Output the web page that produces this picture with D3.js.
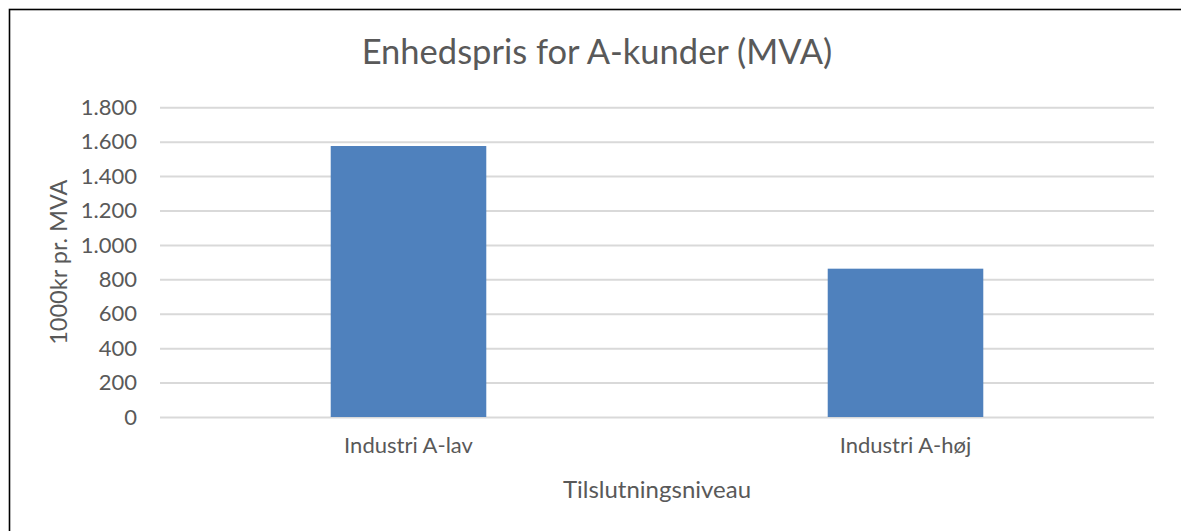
<!DOCTYPE html>
<html>
<head>
<meta charset="utf-8">
<script src="https://cdn.jsdelivr.net/npm/d3@7"></script>
<style>
    body { margin: 0; background: #fff; overflow: hidden; }
    text { font-family: Lato, "Open Sans", sans-serif; fill: #595959; }
    .grid line { stroke: #d9d9d9; stroke-width: 2px; }
    .grid path { display: none; }
</style>
</head>
<body>
<script>
    // data
    let categories = ["Industri A-lav", "Industri A-høj"];
    let values = [1575, 862];
    let yTicks = [0, 200, 400, 600, 800, 1000, 1200, 1400, 1600, 1800];

    let width = 1181, height = 531;
    let plotLeft = 160, plotRight = 1154, plotTop = 107.3, plotBottom = 417;

    let svg = d3.select("body").append("svg")
        .attr("width", width)
        .attr("height", height)
        .style("display", "block");

    // frame (only top and left edges are inside the picture)
    svg.append("rect")
        .attr("x", 9.5).attr("y", 9.5)
        .attr("width", width + 20).attr("height", height + 20)
        .attr("fill", "none")
        .attr("stroke", "#000")
        .attr("stroke-width", 1.6);

    let x = d3.scaleBand()
        .domain(categories)
        .range([plotLeft, plotRight])
        .paddingInner(0.687)
        .paddingOuter(0.3435);

    let y = d3.scaleLinear()
        .domain([0, 1800])
        .range([plotBottom, plotTop]);

    let fmt = d => d3.format(",")(d).replace(/,/g, ".");

    // gridlines
    svg.append("g")
        .attr("class", "grid")
        .attr("transform", "translate(" + plotLeft + ",0)")
        .call(d3.axisRight(y).tickValues(yTicks).tickSize(plotRight - plotLeft).tickFormat(""));

    // y tick labels
    svg.append("g").selectAll("text")
        .data(yTicks)
        .join("text")
        .attr("x", 137)
        .attr("y", d => y(d))
        .attr("dy", "0.35em")
        .attr("text-anchor", "end")
        .style("font-size", "22px")
        .text(fmt);

    // bars
    svg.append("g").selectAll("rect")
        .data(values)
        .join("rect")
        .attr("x", (d, i) => x(categories[i]))
        .attr("y", d => y(d))
        .attr("width", x.bandwidth())
        .attr("height", d => y(0) - y(d))
        .attr("fill", "#4f81bd");

    // category labels
    svg.append("g").selectAll("text")
        .data(categories)
        .join("text")
        .attr("x", d => x(d) + x.bandwidth() / 2)
        .attr("y", 453)
        .attr("text-anchor", "middle")
        .style("font-size", "22px")
        .text(d => d);

    // title
    svg.append("text")
        .attr("x", 597)
        .attr("y", 64)
        .attr("text-anchor", "middle")
        .style("font-size", "34.5px")
        .text("Enhedspris for A-kunder (MVA)");

    // axis titles
    svg.append("text")
        .attr("x", 657)
        .attr("y", 498)
        .attr("text-anchor", "middle")
        .style("font-size", "24px")
        .text("Tilslutningsniveau");

    svg.append("text")
        .attr("transform", "translate(67," + ((plotTop + plotBottom) / 2) + ") rotate(-90)")
        .attr("text-anchor", "middle")
        .style("font-size", "23.5px")
        .text("1000kr pr. MVA");
</script>
</body>
</html>
